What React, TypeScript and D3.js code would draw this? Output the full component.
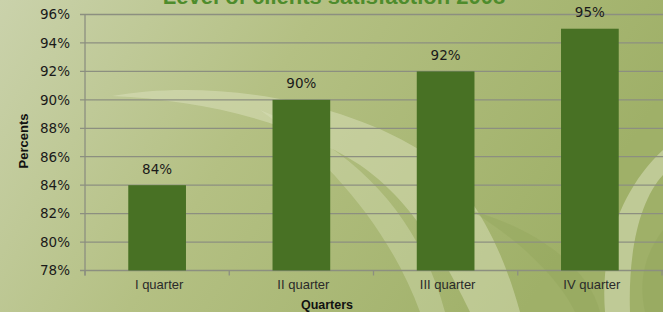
import React, { useEffect, useRef } from 'react';
import * as d3 from 'd3';

const quarters = ['I quarter', 'II quarter', 'III quarter', 'IV quarter'];
const satisfaction = [84, 90, 92, 95];
const yTicks = [78, 80, 82, 84, 86, 88, 90, 92, 94, 96];

const title = 'Level of clients satisfaction 2008';

const App = () => {
  const ref = useRef<SVGSVGElement>(null);

  useEffect(() => {
    const width = 663;
    const height = 312;
    const svg = d3.select(ref.current);
    svg.selectAll('*').remove();

    // background gradient
    const defs = svg.append('defs');
    const grad = defs.append('linearGradient').attr('id', 'bg').attr('x1', 0).attr('x2', 1).attr('y1', 0).attr('y2', 0.3);
    grad.append('stop').attr('offset', '0%').attr('stop-color', '#cad2ab');
    grad.append('stop').attr('offset', '45%').attr('stop-color', '#b4c083');
    grad.append('stop').attr('offset', '100%').attr('stop-color', '#9fb068');

    svg.append('rect').attr('width', width).attr('height', height).attr('fill', 'url(#bg)');

    // decorative leaf swooshes
    const deco = svg.append('g').attr('fill', '#dfe4c4');
    deco.append('path')
      .attr('d', 'M112,96 C200,80 330,95 420,150 C470,185 500,240 520,312 L470,312 C440,250 410,200 360,165 C290,120 200,100 112,96 Z')
      .attr('opacity', 0.45);
    deco.append('path')
      .attr('d', 'M260,110 C360,150 420,220 445,312 L420,312 C390,230 330,160 260,110 Z')
      .attr('opacity', 0.35);
    deco.append('path')
      .attr('d', 'M663,150 C620,190 600,250 605,312 L630,312 C628,250 640,200 663,175 Z')
      .attr('opacity', 0.5);
    svg.append('path')
      .attr('d', 'M470,210 C520,240 560,280 575,312 L663,312 L663,230 C640,260 640,290 645,312 L600,312 C590,270 540,230 470,210 Z')
      .attr('fill', '#8fa35a').attr('opacity', 0.35);

    const margin = { left: 85, right: 1 };
    const x = d3.scaleBand<string>()
      .domain(quarters)
      .range([margin.left, width - margin.right])
      .paddingInner(0.6)
      .paddingOuter(0.3);
    const bandX = d3.scaleBand<string>()
      .domain(quarters)
      .range([margin.left, width - margin.right]);
    const y = d3.scaleLinear().domain([78, 96]).range([270.5, 14.5]);

    // gridlines
    svg.append('g')
      .selectAll('line')
      .data(yTicks)
      .join('line')
      .attr('x1', margin.left - 5)
      .attr('x2', width)
      .attr('y1', d => y(d))
      .attr('y2', d => y(d))
      .attr('stroke', '#8c8f80')
      .attr('stroke-width', 1.3);

    // y axis line
    svg.append('line')
      .attr('x1', margin.left).attr('x2', margin.left)
      .attr('y1', y(96)).attr('y2', y(78) + 5)
      .attr('stroke', '#8c8f80').attr('stroke-width', 1.3);

    // x ticks
    const xTickPos = quarters.map(q => bandX(q) as number).concat([width - margin.right]);
    svg.append('g')
      .selectAll('line')
      .data(xTickPos)
      .join('line')
      .attr('x1', d => d).attr('x2', d => d)
      .attr('y1', y(78)).attr('y2', y(78) + 5)
      .attr('stroke', '#8c8f80').attr('stroke-width', 1.3);

    // y tick labels
    svg.append('g')
      .attr('font-family', 'DejaVu Sans, sans-serif')
      .attr('font-size', 13.5)
      .attr('fill', '#1a1a1a')
      .attr('text-anchor', 'end')
      .selectAll('text')
      .data(yTicks)
      .join('text')
      .attr('x', 70)
      .attr('y', d => y(d))
      .attr('dy', '0.36em')
      .text(d => `${d}%`);

    // bars
    svg.append('g')
      .selectAll('rect')
      .data(satisfaction)
      .join('rect')
      .attr('x', (d, i) => x(quarters[i]) as number)
      .attr('width', x.bandwidth())
      .attr('y', d => y(d))
      .attr('height', d => y(78) - y(d))
      .attr('fill', '#487124');

    // value labels
    svg.append('g')
      .attr('font-family', 'DejaVu Sans, sans-serif')
      .attr('font-size', 13.5)
      .attr('fill', '#1a1a1a')
      .attr('text-anchor', 'middle')
      .selectAll('text')
      .data(satisfaction)
      .join('text')
      .attr('x', (d, i) => (x(quarters[i]) as number) + x.bandwidth() / 2)
      .attr('y', d => y(d) - 11.5)
      .text(d => `${d}%`);

    // x tick labels
    svg.append('g')
      .attr('font-family', 'Liberation Sans, Arial, sans-serif')
      .attr('font-size', 13)
      .attr('fill', '#2a2a2a')
      .attr('text-anchor', 'middle')
      .selectAll('text')
      .data(quarters)
      .join('text')
      .attr('x', d => (bandX(d) as number) + bandX.bandwidth() / 2 + 2)
      .attr('y', 289)
      .text(d => d);

    // axis titles
    svg.append('text')
      .attr('x', 327)
      .attr('y', 308.5)
      .attr('text-anchor', 'middle')
      .attr('font-family', 'Liberation Sans, Arial, sans-serif')
      .attr('font-weight', 'bold')
      .attr('font-size', 12.5)
      .attr('fill', '#111')
      .text('Quarters');

    svg.append('text')
      .attr('transform', 'translate(23,141) rotate(-90)')
      .attr('text-anchor', 'middle')
      .attr('dy', '0.35em')
      .attr('font-family', 'Liberation Sans, Arial, sans-serif')
      .attr('font-weight', 'bold')
      .attr('font-size', 13)
      .attr('fill', '#111')
      .text('Percents');

    // title (cut off at the top, as in the source picture)
    svg.append('text')
      .attr('x', 334)
      .attr('y', 4)
      .attr('text-anchor', 'middle')
      .attr('font-family', 'Liberation Sans, Arial, sans-serif')
      .attr('font-weight', 'bold')
      .attr('font-size', 22)
      .attr('fill', '#4e8c2c')
      .text(title);
  }, []);

  return (
    <svg
      ref={ref}
      width={663}
      height={312}
      style={{ position: 'absolute', left: 0, top: 0, display: 'block' }}
    />
  );
};

export default App;
